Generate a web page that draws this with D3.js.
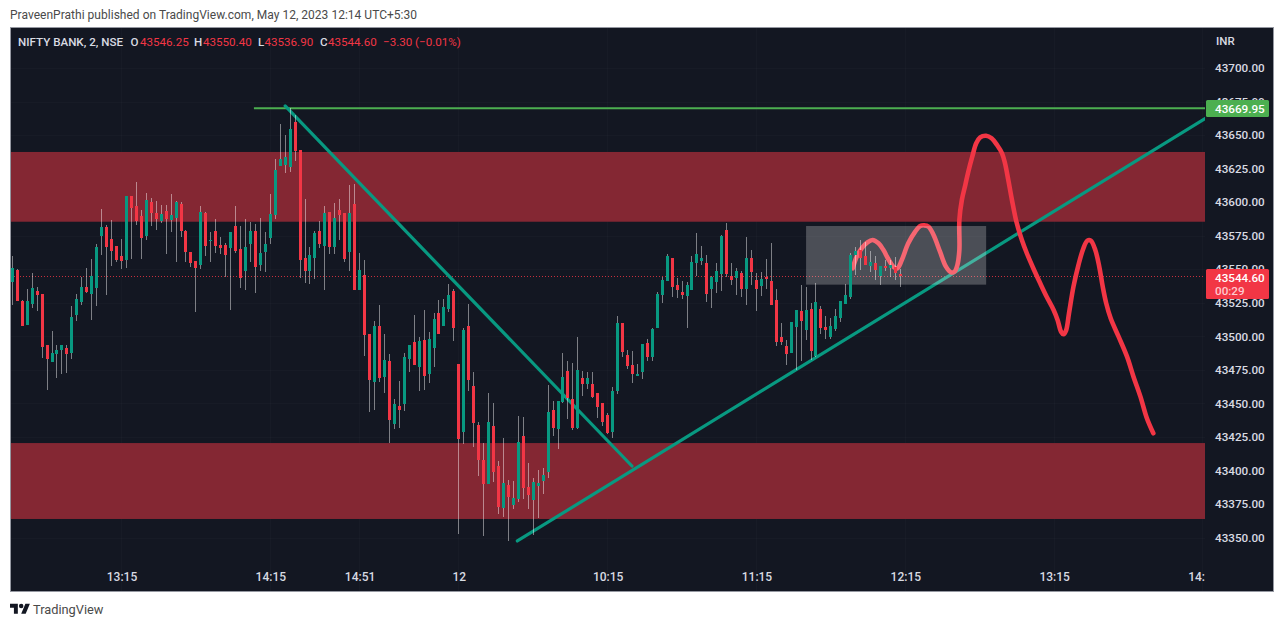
<!DOCTYPE html>
<html><head><meta charset="utf-8">
<style>html,body{margin:0;padding:0;background:#fff;overflow:hidden}svg{display:block}text{font-family:Roboto,sans-serif}</style>
<script src="https://cdn.jsdelivr.net/npm/d3@7/dist/d3.min.js"></script></head><body>
<svg id="c" width="1284" height="627"></svg>
<script>
const opens=[43540.5,43549.4,43526.3,43508.4,43524.1,43533.8,43531.5,43493.5,43480.8,43486.8,43489.8,43491.3,43487.5,43515.9,43525.6,43536.8,43531.5,43536.0,43574.8,43581.5,43572.5,43567.3,43559.9,43556.9,43604.6,43597.1,43589.7,43574.8,43600.1,43591.9,43586.0,43593.4,43586.7,43588.2,43598.6,43578.5,43562.8,43556.1,43553.1,43591.9,43571.0,43578.5,43568.1,43568.1,
43565.8,43582.2,43565.0,43548.6,43568.8,43578.4,43553.1,43562.8,43573.2,43590.4,43626.9,43627.6,43626.2,43659.7,43638.9,43558.3,43548.6,43558.3,43578.4,43567.3,43592.6,43566.5,43594.1,43591.9,43562.8,43598.6,43534.5,43545.6,43501.7,43465.9,43507.6,43469.6,43481.5,43434.6,43448.0,43449.5,43483.0,43495.7,43477.1,43497.2,43471.8,
43491.3,43517.3,43507.7,43520.3,43533.8,43479.3,43428.6,43507.7,43462.9,43433.9,43407.8,43389.9,43433.1,43403.3,43372.0,43389.1,43374.2,43378.7,43425.6,43387.6,43378.0,43388.4,43392.1,43398.8,43445.0,43430.9,43451.0,43474.1,43453.2,43431.6,43468.9,43464.4,43464.4,43457.7,43450.3,43441.3,43428.6,43459.2,43509.9,43486.0,43478.6,43470.4,
43473.4,43495.0,43484.6,43506.2,43530.8,43541.2,43558.4,43538.2,43533.0,43530.0,43534.5,43554.6,43556.1,43554.6,43535.3,43540.5,43546.4,43579.2,43545.0,43543.5,43547.2,43535.3,43558.4,43542.0,43537.5,43544.2,43541.2,43527.1,43499.5,43492.8,43487.5,43506.9,43518.9,43504.7,43520.4,43485.3,43520.4,43506.9,43499.5,43505.4,43513.6,43524.1,43529.3,43560.6,43564.3,43559.9,43552.4,43554.6,43545.0,43552.4,43550.9,43551.6,43546.25];
const highs=[43559.9,43549.9,43527.0,43535.2,43547.2,43536.8,43531.5,43493.5,43503.9,43493.5,43493.5,43493.5,43522.6,43531.5,43544.2,43550.9,43557.6,43568.8,43594.9,43583.0,43586.7,43567.3,43572.5,43604.6,43604.6,43615.0,43594.2,43606.8,43603.1,43600.8,43597.9,43597.9,43606.1,43600.8,43600.1,43579.2,43562.8,43556.1,43597.1,43592.7,43577.7,43587.4,43574.0,43569.6,
43577.7,43597.1,43582.2,43587.4,43585.2,43583.7,43588.1,43577.7,43606.0,43632.1,43658.2,43650.0,43669.95,43664.9,43638.9,43602.3,43566.5,43578.4,43585.9,43597.1,43592.6,43599.3,43602.3,43591.9,43612.8,43613.5,43562.0,43556.8,43501.7,43511.3,43523.3,43501.7,43486.7,43453.2,43466.6,43487.5,43493.5,43515.8,43499.4,43519.5,43503.1,
43517.3,43527.0,43527.8,43539.0,43535.2,43479.3,43506.2,43524.1,43473.4,43436.1,43420.4,43457.7,43450.3,43407.0,43424.2,43392.9,43392.1,43440.6,43439.8,43405.5,43394.3,43400.3,43401.8,43463.7,43451.7,43451.7,43487.5,43481.6,43480.1,43499.5,43474.1,43473.4,43473.4,43457.7,43450.3,43442.8,43462.2,43515.1,43509.9,43489.8,43489.0,43479.3,
43494.2,43498.0,43506.2,43533.0,43544.2,43561.3,43558.4,43543.5,43541.2,43540.5,43559.9,43577.0,43567.3,43560.6,43545.0,43554.6,43575.5,43584.5,43554.6,43550.9,43548.7,43574.0,43564.3,43547.2,43547.9,43557.6,43569.5,43535.3,43509.9,43497.2,43510.6,43519.6,43538.2,43536.8,43524.8,43539.7,43522.6,43515.1,43513.6,43520.4,43526.3,43539.0,43562.1,43566.6,43571.8,43570.3,43563.6,43559.9,43552.4,43556.9,43556.9,43559.1,43550.4];
const lows=[43523.3,43526.3,43507.7,43508.4,43521.1,43518.9,43483.8,43460.0,43480.8,43468.9,43471.9,43472.6,43483.1,43511.4,43523.3,43532.3,43512.2,43522.6,43560.6,43530.8,43552.4,43555.4,43550.2,43550.9,43557.6,43583.0,43557.6,43571.8,43582.2,43579.2,43584.5,43561.3,43577.7,43555.4,43574.0,43555.4,43551.6,43518.1,43550.2,43559.9,43555.4,43562.1,43561.3,43544.2,
43519.5,43562.0,43535.9,43534.5,43555.3,43532.2,43548.6,43547.9,43568.8,43587.4,43626.9,43621.7,43622.4,43630.7,43543.4,43539.7,43538.9,43542.7,43565.8,43534.5,43561.3,43561.3,43571.8,43555.3,43548.6,43534.5,43534.5,43485.3,43443.5,43445.0,43465.9,43457.7,43420.1,43430.8,43431.6,43444.3,43473.3,43478.5,43459.2,43459.9,43465.1,
43477.1,43501.7,43507.7,43518.1,43496.5,43352.6,43419.7,43459.2,43417.5,43395.8,43351.1,43389.9,43391.4,43367.5,43365.3,43347.4,43371.2,43376.4,43378.7,43371.2,43351.9,43364.5,43382.4,43394.3,43425.6,43415.9,43450.3,43438.3,43430.1,43430.9,43455.5,43460.7,43454.0,43439.1,43433.1,43427.1,43424.2,43457.0,43484.5,43475.6,43465.2,43470.4,
43468.2,43481.6,43481.6,43506.2,43524.8,43541.2,43529.3,43528.6,43527.8,43506.2,43534.5,43545.0,43553.2,43525.6,43521.1,43532.3,43533.8,43544.2,43538.2,43530.8,43529.3,43523.3,43538.2,43518.8,43530.0,43535.3,43523.3,43492.8,43493.5,43478.6,43487.5,43474.9,43481.6,43497.2,43482.3,43484.6,43501.7,43498.0,43498.0,43503.9,43510.6,43524.1,43527.8,43545.7,43549.4,43553.2,43547.9,43542.0,43538.2,43548.7,43544.2,43542.0,43536.9];
const closes=[43550.9,43526.3,43507.7,43526.3,43536.0,43530.8,43492.0,43483.1,43487.5,43489.8,43493.5,43486.8,43514.4,43527.8,43536.8,43533.0,43545.0,43566.6,43581.5,43566.6,43563.6,43556.9,43556.1,43604.6,43595.6,43586.0,43573.3,43601.6,43591.9,43587.4,43591.2,43587.4,43590.4,43600.1,43578.5,43562.8,43554.6,43550.9,43592.7,43567.3,43571.8,43567.3,43565.9,43560.6,
43577.7,43563.5,43543.4,43566.5,43578.4,43551.6,43562.0,43568.8,43591.1,43623.9,43632.1,43633.6,43654.5,43638.1,43556.8,43548.6,43560.6,43577.0,43568.8,43591.9,43566.5,43588.1,43590.4,43557.6,43591.9,43534.5,43549.4,43500.9,43467.4,43507.6,43468.9,43482.3,43437.5,43449.5,43445.0,43484.5,43493.5,43478.5,43496.4,43470.4,43497.9,
43512.9,43501.7,43521.8,43530.8,43506.2,43423.4,43504.7,43467.4,43435.3,43407.8,43389.9,43436.1,43398.8,43372.7,43390.6,43380.2,43379.4,43421.2,43386.9,43381.7,43391.4,43390.6,43396.6,43443.5,43431.6,43451.7,43469.6,43454.0,43431.6,43474.9,43464.4,43468.9,43454.7,43447.3,43436.1,43427.9,43459.2,43509.9,43488.3,43477.8,43471.9,43471.9,
43494.2,43484.6,43505.4,43531.5,43542.0,43559.9,43536.8,43534.5,43530.8,43538.2,43555.4,43561.3,43558.4,43531.5,43544.2,43548.7,43574.8,43546.4,43542.0,43548.7,43535.3,43558.4,43547.9,43535.3,43542.7,43542.7,43523.3,43495.7,43495.7,43486.8,43510.6,43519.6,43511.4,43519.6,43489.0,43525.6,43506.2,43504.7,43507.7,43515.1,43526.3,43530.8,43560.6,43563.6,43558.4,43553.2,43555.4,43549.4,43552.4,43550.9,43553.2,43547.2,43544.6];

const priceTicks=[43700,43675,43650,43625,43600,43575,43550,43525,43500,43475,43450,43425,43400,43375,43350];
const timeTickBars=[22,52,70,90,120,150,180,210,240];
const timeTickLabels=["13:15","14:15","14:51","12","10:15","11:15","12:15","13:15","14:15"];

const supplyZone=[43637.4,43585.4];
const demandZone=[43420.4,43363.8];
const consolidationBars=[160,196.3];
const consolidationPrices=[43582.2,43538.5];
const highLineBar=48.7, highPrice=43669.95, lastClose=43544.60;
const fallingLine=[[55,43671.7],[124.9,43403.3]];
const risingLine=[[101.8,43347.4],[240.6,43662.7]];
const pathBars=[169.4,170.2,171.2,172.3,173.4,174.6,175.6,176.6,177.6,178.4,179.3,180.6,182,183,183.8,184.7,185.7,187,188.2,189.2,189.9,190.5,190.9,190.9,191.4,192.1,192.7,193.5,194.3,195.1,196.3,197.4,198.5,199.5,200.1,200.7,201.5,202.4,203.5,204.5,205.8,207.2,208.5,209.9,210.7,211.4,211.9,212.4,213,213.9,214.9,215.9,216.7,217.4,218.3,219.1,219.8,220.5,221.4,223,224.7,226,227.4,228.7,230];
const pathPrices=[43550.7,43559.3,43565.6,43569.8,43571.8,43569.3,43564.3,43557.4,43551.9,43550.7,43556.9,43569.3,43578,43582.2,43582.7,43581.7,43575.5,43563.1,43551.9,43547.7,43548.1,43553.1,43564.3,43586.7,43601.6,43612.8,43622.7,43633.9,43643.9,43648.3,43649.5,43647.6,43642.6,43636.4,43629,43617.8,43601.6,43585.4,43571.8,43561.9,43550.7,43539.5,43529.5,43519.6,43512.1,43503.4,43501.5,43504.2,43517.1,43537,43553.1,43565.6,43571.3,43571.3,43564.3,43551.9,43537,43524.6,43513.4,43499.7,43484.8,43469.9,43455,43438.9,43427.7];

const RED="#f23645",GREEN="#089981",LINE="#4caf50",BG="#131722",TXT="#d9dbe2";
const P={l:11,r:1205,t:28,b:591};
const x=d3.scaleLinear().domain([0,179]).range([12.33,900.33]);
const y=d3.scaleLinear().domain([43350,43700]).range([537.5,68]);
const svg=d3.select("#c");

svg.append("rect").attr("x",10.5).attr("y",27.5).attr("width",1263).attr("height",564).attr("fill",BG).attr("stroke","#9598a1");
svg.append("defs").append("clipPath").attr("id","pc").append("rect").attr("x",P.l).attr("y",P.t).attr("width",P.r-P.l).attr("height",P.b-P.t);
svg.select("defs").append("clipPath").attr("id","ac").append("rect").attr("x",P.l).attr("y",560).attr("width",P.r-P.l).attr("height",30);
const g=svg.append("g").attr("clip-path","url(#pc)");

// faint grid
g.append("g").attr("stroke","#ffffff").attr("stroke-opacity",0.018)
 .call(s=>s.selectAll("line.h").data(priceTicks).join("line").attr("class","h").attr("x1",P.l).attr("x2",P.r).attr("y1",d=>Math.round(y(d))+.5).attr("y2",d=>Math.round(y(d))+.5))
 .call(s=>s.selectAll("line.v").data(timeTickBars).join("line").attr("class","v").attr("y1",P.t).attr("y2",P.b).attr("x1",d=>Math.floor(x(d))+.5).attr("x2",d=>Math.floor(x(d))+.5));

// zones
g.selectAll("rect.zone").data([supplyZone,demandZone]).join("rect").attr("class","zone")
 .attr("x",P.l).attr("width",P.r-P.l).attr("y",d=>y(d[0])).attr("height",d=>y(d[1])-y(d[0])).attr("fill","#842733");

// last price dotted
g.append("line").attr("x1",P.l).attr("x2",P.r).attr("y1",Math.round(y(lastClose))+.5).attr("y2",Math.round(y(lastClose))+.5)
 .attr("stroke",RED).attr("stroke-dasharray","1 2").attr("stroke-opacity",.8);

// drawings
const seg=d3.line().x(d=>x(d[0])).y(d=>y(d[1]));
g.append("line").attr("x1",x(highLineBar)).attr("x2",P.r).attr("y1",y(highPrice)).attr("y2",y(highPrice)).attr("stroke",LINE).attr("stroke-width",2);
g.selectAll("path.tl").data([fallingLine,risingLine]).join("path").attr("class","tl").attr("d",seg).attr("fill","none").attr("stroke",GREEN).attr("stroke-width",3.2).attr("stroke-linecap","round");
const curve=d3.line().x(d=>x(d[0])).y(d=>y(d[1])).curve(d3.curveCatmullRom.alpha(.5));
g.append("path").attr("d",curve(pathBars.map((b,i)=>[b,pathPrices[i]]))).attr("fill","none").attr("stroke",RED).attr("stroke-width",4.6).attr("stroke-linecap","round").attr("stroke-linejoin","round");
g.append("rect").attr("x",x(consolidationBars[0])).attr("width",x(consolidationBars[1])-x(consolidationBars[0]))
 .attr("y",y(consolidationPrices[0])).attr("height",y(consolidationPrices[1])-y(consolidationPrices[0])).attr("fill","#fff").attr("fill-opacity",.24);

// candles
const idx=d3.range(opens.length);
const cg=g.append("g").attr("shape-rendering","crispEdges");
cg.selectAll("rect.w").data(idx).join("rect").attr("class","w")
 .attr("x",i=>Math.floor(x(i))).attr("width",1)
 .attr("y",i=>Math.round(y(highs[i]))).attr("height",i=>Math.max(1,Math.round(y(lows[i]))-Math.round(y(highs[i]))))
 .attr("fill","#fff").attr("fill-opacity",.45);
cg.selectAll("rect.b").data(idx).join("rect").attr("class","b")
 .attr("x",i=>Math.floor(x(i))-1).attr("width",3)
 .attr("y",i=>Math.round(y(Math.max(opens[i],closes[i]))))
 .attr("height",i=>Math.max(1,Math.round(y(Math.min(opens[i],closes[i])))-Math.round(y(Math.max(opens[i],closes[i])))))
 .attr("fill",i=>closes[i]>=opens[i]?GREEN:RED);

// price axis
const ay=d3.axisRight(y).tickValues(priceTicks).tickSize(0).tickPadding(0).tickFormat(d3.format(".2f"));
svg.append("g").attr("transform","translate(1215,0)").call(ay).call(s=>s.select(".domain").remove())
 .selectAll("text").attr("fill",TXT).style("font-family","Roboto,sans-serif").style("font-size","11.7px").style("font-weight",500);

// time axis
const ax=d3.axisBottom(x).tickValues(timeTickBars).tickSize(0).tickPadding(0).tickFormat((d,i)=>timeTickLabels[i]);
svg.append("g").attr("clip-path","url(#ac)").append("g").attr("transform","translate(0,572)").call(ax).call(s=>s.select(".domain").remove())
 .selectAll("text").attr("fill",TXT).style("font-family","Roboto,sans-serif").style("font-size","12px").style("font-weight",500);

// price labels
function tag(py,h,col){svg.append("rect").attr("x",1206).attr("y",py).attr("width",63).attr("height",h).attr("rx",1.5).attr("fill",col);}
tag(100,17,LINE);
svg.append("text").attr("x",1215).attr("y",112.5).attr("fill","#fff").attr("font-size",11.7).attr("font-weight",500).text(highPrice.toFixed(2));
tag(269,30,RED);
svg.append("text").attr("x",1215).attr("y",281.5).attr("fill","#fff").attr("font-size",11.7).attr("font-weight",500).text(lastClose.toFixed(2));
svg.append("text").attr("x",1215).attr("y",295).attr("fill","#ffc9cf").attr("font-size",11.7).attr("font-weight",500).text("00:29");
svg.append("text").attr("x",1216).attr("y",44.5).attr("fill",TXT).attr("font-size",11.5).attr("font-weight",500).text("INR");

// legend
const legend=[["NIFTY BANK, 2, NSE",18,TXT],["O",130.5,TXT],["43546.25",140,RED],["H",194,TXT],["43550.40",203,RED],["L",258,TXT],["43536.90",264.5,RED],["C",320,TXT],["43544.60",328,RED],["−3.30 (−0.01%)",383,RED]];
svg.selectAll("text.lg").data(legend).join("text").attr("class","lg").attr("x",d=>d[1]).attr("y",45.5).attr("fill",d=>d[2]).attr("font-size",11.6).attr("font-weight",d=>d[2]===TXT?500:400).text(d=>d[0]);

// header and footer
svg.append("text").attr("x",10).attr("y",19).attr("fill","#4a4a4a").attr("font-size",12).attr("textLength",407).text("PraveenPrathi published on TradingView.com, May 12, 2023 12:14 UTC+5:30");
svg.append("g").attr("transform","translate(10,601.5) scale(.56)").attr("fill","#131722")
 .call(s=>s.append("path").attr("d","M14 22H7V11H0V4h14v18zM28 22h-8l7.5-18h8L28 22z"))
 .call(s=>s.append("circle").attr("cx",20).attr("cy",8).attr("r",4));
svg.append("text").attr("x",33).attr("y",614).attr("fill","#4a4a4a").attr("font-size",12.8).text("TradingView");
</script></body></html>
